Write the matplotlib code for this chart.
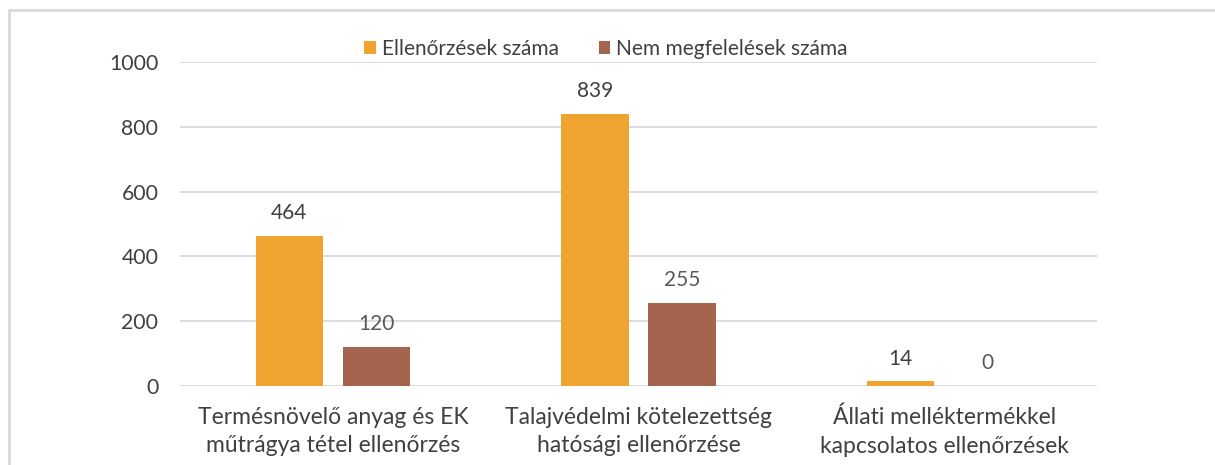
import matplotlib
matplotlib.use("Agg")
import matplotlib.pyplot as plt
import numpy as np
from matplotlib.patches import Rectangle

categories = ["Termésnövelő anyag és EK\nműtrágya tétel ellenőrzés",
              "Talajvédelmi kötelezettség\nhatósági ellenőrzése",
              "Állati melléktermékkel\nkapcsolatos ellenőrzések"]
series_names = ["Ellenőrzések száma", "Nem megfelelések száma"]
checks = [464, 839, 14]
nonconform = [120, 255, 0]
yticks = [0, 200, 400, 600, 800, 1000]

c_orange = "#F0A430"
c_brown = "#A5644D"
txt = "#404040"
txt2 = "#595959"
grid = "#D9D9D9"

plt.rcParams['font.family'] = ['Lato', 'DejaVu Sans']

fig = plt.figure(figsize=(12.15, 4.65), dpi=100)
ax = fig.add_axes([180/1215, 1-386/465, (1097-180)/1215, (386-62)/465])

# chart border
fig.patches.append(Rectangle((9/1215, -0.1), 1.2, 1-10/465+0.1, transform=fig.transFigure,
                             fill=False, edgecolor="#D9D9D9", linewidth=2))

x = np.arange(len(categories))
w = 0.221
off = 0.1424
b1 = ax.bar(x - off, checks, w, color=c_orange, label=series_names[0], zorder=3)
b2 = ax.bar(x + off, nonconform, w, color=c_brown, label=series_names[1], zorder=3)

for rect, v in zip(b1, checks):
    ax.annotate(str(v), (rect.get_x() + rect.get_width()/2, rect.get_height()),
                xytext=(0, 16.5), textcoords="offset points", ha="center", va="center",
                fontsize=15, color=txt)
for rect, v in zip(b2, nonconform):
    ax.annotate(str(v), (rect.get_x() + rect.get_width()/2, rect.get_height()),
                xytext=(0, 16.5), textcoords="offset points", ha="center", va="center",
                fontsize=15, color=txt2)

ax.set_xlim(-0.5, 2.5)
ax.set_ylim(0, 1000)
ax.set_yticks(yticks)
ax.set_yticklabels([str(t) for t in yticks], fontsize=15.3, color=txt)
ax.set_xticks(x)
ax.set_xticklabels(categories, fontsize=16.5, color=txt, linespacing=1.45)
ax.tick_params(axis="y", length=0, pad=15.5)
ax.tick_params(axis="x", length=0, pad=15)
ax.yaxis.grid(True, color=grid, linewidth=1.3, zorder=0)
ax.set_axisbelow(True)
for s in ax.spines.values():
    s.set_visible(False)

fig.legend(handles=[b1, b2], labels=series_names, loc="center", bbox_to_anchor=(606/1215, 1-49/465),
           ncol=2, frameon=False, fontsize=15, handlelength=0.55, handleheight=0.55,
           handletextpad=0.3, columnspacing=1.9, labelcolor=txt)

fig.savefig("out.png", dpi=100, facecolor="white")
